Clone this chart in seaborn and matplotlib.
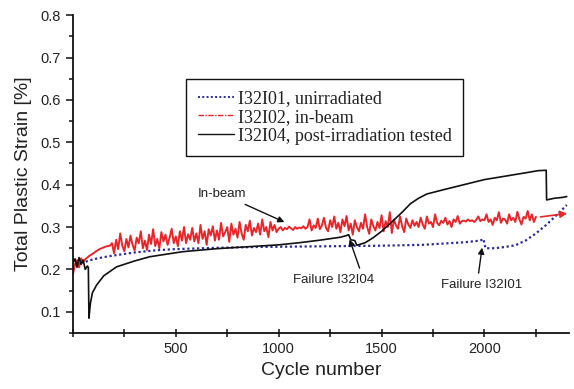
import numpy as np
import pandas as pd
import matplotlib
matplotlib.use("Agg")
import matplotlib.pyplot as plt
from matplotlib.ticker import MultipleLocator
import seaborn as sns

# I32I01, unirradiated (blue dotted)
cycles_i01 = [0, 10, 30, 60, 100, 150, 200, 300, 400, 500, 700, 900, 1100, 1300,
              1500, 1700, 1900, 1980, 1995, 2005, 2050, 2100, 2150, 2200, 2250,
              2300, 2350, 2400]
strain_i01 = [0.205, 0.212, 0.215, 0.218, 0.224, 0.229, 0.233, 0.240, 0.245, 0.248,
              0.251, 0.253, 0.254, 0.255, 0.256, 0.258, 0.264, 0.268, 0.272, 0.250,
              0.250, 0.253, 0.257, 0.268, 0.285, 0.305, 0.328, 0.352]

# I32I02, in-beam (red, noisy) - one reading every 10 cycles, 0..2250
strain_i02 = [
    0.188, 0.212, 0.222, 0.205, 0.226, 0.218, 0.224, 0.228, 0.232, 0.235,
    0.238, 0.242, 0.245, 0.248, 0.250, 0.252, 0.254, 0.255, 0.256, 0.262,
    0.238, 0.270, 0.248, 0.285, 0.256, 0.243, 0.272, 0.252, 0.280, 0.258,
    0.245, 0.275, 0.262, 0.290, 0.250, 0.268, 0.246, 0.282, 0.260, 0.295,
    0.255, 0.272, 0.250, 0.288, 0.266, 0.282, 0.258, 0.275, 0.296, 0.262,
    0.278, 0.255, 0.290, 0.268, 0.300, 0.262, 0.283, 0.270, 0.298, 0.266,
    0.285, 0.262, 0.305, 0.272, 0.290, 0.258, 0.295, 0.280, 0.302, 0.268,
    0.292, 0.270, 0.310, 0.278, 0.288, 0.300, 0.265, 0.308, 0.282, 0.296,
    0.275, 0.312, 0.285, 0.270, 0.305, 0.290, 0.315, 0.280, 0.298, 0.288,
    0.308, 0.282, 0.318, 0.290, 0.300, 0.276, 0.312, 0.292, 0.305, 0.288,
    0.296, 0.300, 0.292, 0.298, 0.295, 0.301, 0.297, 0.293, 0.300, 0.296,
    0.299, 0.297, 0.302, 0.296, 0.300, 0.318, 0.292, 0.304, 0.298, 0.320,
    0.295, 0.304, 0.322, 0.298, 0.290, 0.316, 0.300, 0.325, 0.296, 0.310,
    0.288, 0.318, 0.302, 0.326, 0.292, 0.308, 0.282, 0.316, 0.300, 0.290,
    0.310, 0.296, 0.330, 0.300, 0.284, 0.318, 0.302, 0.292, 0.312, 0.298,
    0.328, 0.290, 0.314, 0.300, 0.335, 0.286, 0.318, 0.304, 0.296, 0.325,
    0.302, 0.288, 0.320, 0.306, 0.298, 0.316, 0.303, 0.312, 0.300, 0.322,
    0.306, 0.296, 0.325, 0.308, 0.312, 0.300, 0.330, 0.310, 0.304, 0.315,
    0.310, 0.322, 0.306, 0.314, 0.300, 0.318, 0.312, 0.326, 0.308, 0.314,
    0.315, 0.313, 0.318, 0.314, 0.316, 0.312, 0.317, 0.325, 0.314, 0.318,
    0.316, 0.330, 0.312, 0.318, 0.305, 0.322, 0.316, 0.335, 0.310, 0.320,
    0.318, 0.308, 0.330, 0.316, 0.322, 0.312, 0.336, 0.318, 0.306, 0.324,
    0.320, 0.338, 0.316, 0.330, 0.312, 0.324,
]
cycles_i02 = list(range(0, 10 * len(strain_i02), 10))

# I32I04, post-irradiation tested (black)
cycles_i04 = [0, 10, 20, 30, 40, 50, 60, 70, 75, 78, 85, 95, 115, 150, 212, 300,
              374, 536, 700, 800, 900, 1000, 1100, 1200, 1300, 1330, 1340, 1350,
              1370, 1380, 1420, 1460, 1500, 1550, 1600, 1640, 1680, 1720, 1800,
              1900, 2000, 2100, 2200, 2260, 2300, 2302, 2340, 2380, 2400]
strain_i04 = [0.215, 0.225, 0.205, 0.228, 0.212, 0.222, 0.200, 0.208, 0.205, 0.085,
              0.120, 0.145, 0.163, 0.185, 0.206, 0.220, 0.230, 0.242, 0.249, 0.252,
              0.255, 0.258, 0.263, 0.269, 0.276, 0.280, 0.282, 0.270, 0.268, 0.257,
              0.263, 0.275, 0.290, 0.312, 0.335, 0.355, 0.368, 0.378, 0.388, 0.400,
              0.412, 0.420, 0.428, 0.433, 0.434, 0.364, 0.368, 0.370, 0.372]

text_col = "#222222"
sns.set_style("ticks")
plt.rcParams["font.family"] = ["Liberation Sans", "DejaVu Sans"]

fig = plt.figure(figsize=(5.74, 3.89), dpi=100)
ax = fig.add_axes([0.127, 0.144, 0.864, 0.817])

df01 = pd.DataFrame({"cycle": cycles_i01, "strain": strain_i01})
df02 = pd.DataFrame({"cycle": cycles_i02, "strain": strain_i02})
df04 = pd.DataFrame({"cycle": cycles_i04, "strain": strain_i04})

sns.lineplot(data=df01, x="cycle", y="strain", ax=ax, color="#2a2a9c", lw=1.6,
             linestyle=(0, (1, 1.2)), estimator=None, sort=False,
             label="I32I01, unirradiated")
sns.lineplot(data=df02, x="cycle", y="strain", ax=ax, color="#e8262a", lw=1.4,
             estimator=None, sort=False, label="I32I02, in-beam")
sns.lineplot(data=df04, x="cycle", y="strain", ax=ax, color="#111111", lw=1.2,
             estimator=None, sort=False,
             label="I32I04, post-irradiation tested")

ax.set_xlim(0, 2410)
ax.set_ylim(0.05, 0.8)
ax.set_xticks([500, 1000, 1500, 2000])
ax.xaxis.set_minor_locator(MultipleLocator(250))
ax.yaxis.set_major_locator(MultipleLocator(0.1))
ax.yaxis.set_minor_locator(MultipleLocator(0.05))
ax.tick_params(axis="both", which="both", labelsize=10.5, colors=text_col, width=1.2)
ax.tick_params(axis="x", which="both", direction="inout", length=6)
ax.tick_params(axis="y", which="major", direction="out", length=5)
ax.tick_params(axis="y", which="minor", direction="out", length=3)
sns.despine(ax=ax)
for s in ["left", "bottom"]:
    ax.spines[s].set_linewidth(1.3)
    ax.spines[s].set_color("#111111")

ax.set_xlabel("Cycle number", fontsize=14, color=text_col, labelpad=4)
ax.set_ylabel("Total Plastic Strain [%]", fontsize=14, color=text_col, labelpad=6)

leg = ax.legend(loc="upper left", bbox_to_anchor=(0.229, 0.80), frameon=True,
                fancybox=False, edgecolor="#111111", framealpha=1,
                prop={"family": "Liberation Serif", "size": 13},
                handlelength=2.0, handletextpad=0.22, labelspacing=0.1,
                borderpad=0.62, borderaxespad=0)
leg.get_frame().set_linewidth(1.0)
handles = leg.legend_handles
handles[1].set_linestyle((0, (4, 1, 1, 1)))
handles[1].set_linewidth(1.0)
handles[0].set_linewidth(1.4)
handles[2].set_linewidth(1.0)
for t in leg.get_texts():
    t.set_color(text_col)

arrow = dict(arrowstyle="-|>", color="#111111", lw=1.0, mutation_scale=9)
ax.annotate("In-beam", xy=(1040, 0.309), xytext=(607, 0.378), fontsize=9.5,
            color=text_col, va="center", ha="left", arrowprops=arrow)
ax.annotate("Failure I32I04", xy=(1340, 0.277), xytext=(1068, 0.175),
            fontsize=9.5, color=text_col, va="center", ha="left",
            arrowprops=dict(arrow, relpos=(0.85, 1.0)))
ax.annotate("Failure I32I01", xy=(1990, 0.258), xytext=(1790, 0.163),
            fontsize=9.5, color=text_col, va="center", ha="left",
            arrowprops=dict(arrow, relpos=(0.45, 1.0)))
ax.annotate("", xy=(2415, 0.333), xytext=(2258, 0.323), annotation_clip=False,
            arrowprops=dict(arrowstyle="-|>", color="#e8262a", lw=1.2,
                            mutation_scale=10))

fig.savefig("out.png", dpi=100)
